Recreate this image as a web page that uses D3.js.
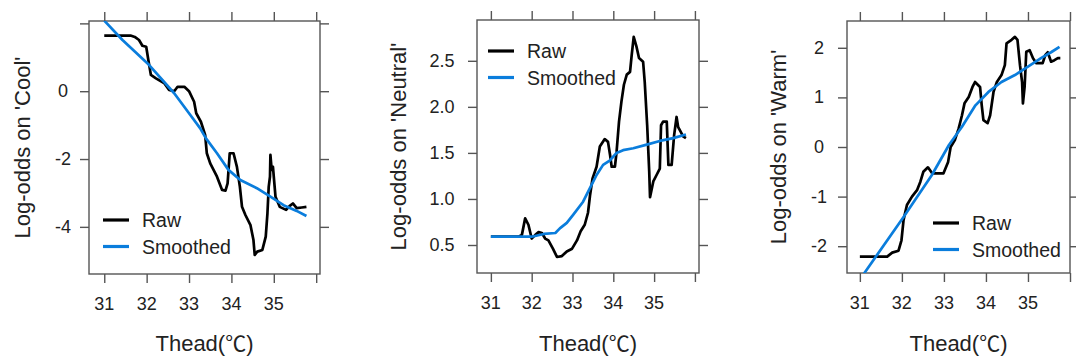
<!DOCTYPE html>
<html>
<head>
<meta charset="utf-8">
<script src="https://cdn.jsdelivr.net/npm/d3@7"></script>
<style>
  html, body { margin: 0; padding: 0; background: #fff; }
  svg { display: block; }
  text { font-family: "Liberation Sans", Arial, sans-serif; fill: #222; }
</style>
</head>
<body>
<svg id="chart" width="1076" height="361"></svg>
<script>
// ---------------- data ----------------
const xTicks = [31, 32, 33, 34, 35, 36];
const xTickLabels = ["31", "32", "33", "34", "35", ""];
const xTitleMain = "Thead(";
const xTitleUnit = "\u2103";
const xTitleEnd = ")";
const legendLabels = ["Raw", "Smoothed"];

const coolTicks = [-4, -2, 0, 2];
const coolTickLabels = ["-4", "-2", "0", ""];
const neutralTicks = [0.5, 1.0, 1.5, 2.0, 2.5];
const neutralTickLabels = ["0.5", "1.0", "1.5", "2.0", "2.5"];
const warmTicks = [-2, -1, 0, 1, 2];
const warmTickLabels = ["-2", "-1", "0", "1", "2"];

const coolRaw = [[31.0,1.64],[31.62,1.64],[31.72,1.6],[31.82,1.51],[31.9,1.34],[31.99,1.31],[32.04,0.92],[32.1,0.48],[32.22,0.38],[32.42,0.23],[32.53,0.04],[32.65,0.0],[32.73,0.13],[32.89,0.13],[33.0,0.0],[33.12,-0.31],[33.17,-0.65],[33.28,-0.9],[33.38,-1.29],[33.42,-1.83],[33.5,-2.13],[33.66,-2.52],[33.78,-2.91],[33.86,-2.93],[33.91,-2.72],[33.96,-1.83],[34.05,-1.83],[34.13,-2.23],[34.2,-2.82],[34.25,-3.41],[34.33,-3.65],[34.45,-3.95],[34.52,-4.39],[34.55,-4.83],[34.61,-4.73],[34.73,-4.68],[34.81,-4.29],[34.85,-3.6],[34.88,-2.82],[34.91,-2.52],[34.92,-1.88],[34.95,-2.32],[34.98,-2.23],[35.04,-3.11],[35.14,-3.41],[35.29,-3.5],[35.37,-3.39],[35.45,-3.31],[35.54,-3.45],[35.66,-3.43],[35.77,-3.41]];
const coolSmooth = [[31.0,2.08],[31.43,1.51],[32.06,0.77],[32.65,-0.06],[33.0,-0.65],[33.26,-1.09],[33.4,-1.39],[33.66,-1.83],[33.93,-2.32],[34.21,-2.62],[34.6,-2.86],[34.92,-3.11],[35.23,-3.36],[35.54,-3.53],[35.77,-3.68]];

const neutralRaw = [[31.0,0.59],[31.68,0.59],[31.76,0.61],[31.84,0.79],[31.92,0.72],[32.0,0.57],[32.09,0.61],[32.17,0.64],[32.25,0.63],[32.33,0.57],[32.41,0.55],[32.52,0.46],[32.62,0.37],[32.74,0.38],[32.86,0.43],[32.99,0.46],[33.11,0.55],[33.2,0.65],[33.3,0.72],[33.38,0.85],[33.43,1.04],[33.49,1.22],[33.59,1.35],[33.67,1.57],[33.79,1.65],[33.87,1.62],[33.92,1.48],[33.96,1.35],[34.04,1.35],[34.08,1.51],[34.14,1.84],[34.2,2.06],[34.26,2.24],[34.33,2.35],[34.41,2.38],[34.45,2.56],[34.5,2.76],[34.57,2.65],[34.63,2.53],[34.73,2.49],[34.77,2.27],[34.83,1.8],[34.88,1.3],[34.9,1.02],[34.98,1.19],[35.06,1.26],[35.14,1.33],[35.17,1.8],[35.22,1.84],[35.31,1.84],[35.35,1.37],[35.43,1.37],[35.49,1.69],[35.55,1.89],[35.59,1.78],[35.65,1.73],[35.71,1.68],[35.78,1.66]];
const neutralSmooth = [[31.0,0.59],[31.68,0.59],[32.0,0.59],[32.3,0.62],[32.58,0.63],[32.69,0.68],[32.86,0.74],[33.02,0.83],[33.26,0.97],[33.43,1.12],[33.59,1.26],[33.75,1.37],[33.92,1.42],[34.08,1.5],[34.24,1.53],[34.49,1.55],[34.82,1.59],[35.14,1.63],[35.47,1.66],[35.78,1.7]];

const warmRaw = [[31.0,-2.21],[31.65,-2.21],[31.77,-2.13],[31.92,-2.09],[31.99,-1.88],[32.04,-1.47],[32.12,-1.17],[32.24,-1.0],[32.36,-0.87],[32.44,-0.7],[32.51,-0.5],[32.62,-0.41],[32.72,-0.53],[32.99,-0.53],[33.1,-0.3],[33.16,0.0],[33.26,0.14],[33.35,0.37],[33.43,0.64],[33.49,0.88],[33.59,1.01],[33.68,1.21],[33.74,1.31],[33.86,1.21],[33.9,0.84],[33.94,0.54],[34.04,0.48],[34.1,0.64],[34.18,1.11],[34.26,1.31],[34.37,1.45],[34.45,1.65],[34.49,2.09],[34.61,2.16],[34.69,2.22],[34.75,2.16],[34.81,1.65],[34.86,1.31],[34.88,0.88],[34.92,1.21],[34.96,1.92],[35.04,1.95],[35.12,1.79],[35.2,1.69],[35.35,1.69],[35.41,1.85],[35.47,1.91],[35.55,1.72],[35.63,1.75],[35.71,1.79],[35.77,1.79]];
const warmSmooth = [[31.0,-2.67],[31.1,-2.55],[32.04,-1.41],[32.71,-0.57],[33.12,0.04],[33.43,0.41],[33.75,0.84],[34.06,1.11],[34.37,1.31],[34.69,1.45],[35.0,1.62],[35.31,1.79],[35.55,1.91],[35.75,2.02]];

// ---------------- layout ----------------
const panels = [
  { id: "cool", title: "Log-odds on 'Cool'", raw: coolRaw, smooth: coolSmooth,
    yTicks: coolTicks, yTickLabels: coolTickLabels,
    left: 89, right: 320, top: 21, bottom: 274,
    xDomain: [30.64, 36.09], yDomain: [-5.39, 2.07],
    titleX: 22, labelX: 63, legendX: 103, legendY: 220 },
  { id: "neutral", title: "Log-odds on 'Neutral'", raw: neutralRaw, smooth: neutralSmooth,
    yTicks: neutralTicks, yTickLabels: neutralTickLabels,
    left: 477, right: 699, top: 20, bottom: 273,
    xDomain: [30.66, 36.10], yDomain: [0.196, 2.943],
    titleX: 398, labelX: 442, legendX: 488, legendY: 51 },
  { id: "warm", title: "Log-odds on 'Warm'", raw: warmRaw, smooth: warmSmooth,
    yTicks: warmTicks, yTickLabels: warmTickLabels,
    left: 847, right: 1070, top: 21, bottom: 273,
    xDomain: [30.694, 36.0], yDomain: [-2.54, 2.54],
    titleX: 778, labelX: 819, legendX: 933, legendY: 223 }
];

const BLUE = "#0a7ddc";
const AXIS = "#555";
const TICK = 9;

const svg = d3.select("#chart");

panels.forEach((p, i) => {
  const x = d3.scaleLinear().domain(p.xDomain).range([p.left, p.right]);
  const y = d3.scaleLinear().domain(p.yDomain).range([p.bottom, p.top]);
  const g = svg.append("g");

  const clipId = "clip-" + p.id;
  svg.append("clipPath").attr("id", clipId)
    .append("rect").attr("x", p.left).attr("y", p.top)
    .attr("width", p.right - p.left).attr("height", p.bottom - p.top);

  const styleAxis = sel => {
    sel.select(".domain").remove();
    sel.selectAll(".tick line").attr("stroke", AXIS).attr("stroke-width", 1.4);
    sel.selectAll(".tick text").remove();
  };
  g.append("g").attr("transform", `translate(0,${p.bottom})`)
    .call(d3.axisBottom(x).tickValues(xTicks).tickSize(TICK)).call(styleAxis);
  g.append("g").attr("transform", `translate(0,${p.top})`)
    .call(d3.axisTop(x).tickValues(xTicks).tickSize(TICK)).call(styleAxis);
  g.append("g").attr("transform", `translate(${p.left},0)`)
    .call(d3.axisLeft(y).tickValues(p.yTicks).tickSize(TICK)).call(styleAxis);
  g.append("g").attr("transform", `translate(${p.right},0)`)
    .call(d3.axisRight(y).tickValues(p.yTicks).tickSize(TICK)).call(styleAxis);

  g.selectAll(".xl").data(xTicks).enter().append("text")
    .attr("x", d => x(d)).attr("y", p.bottom + 36)
    .attr("text-anchor", "middle").attr("font-size", 18)
    .text((d, k) => xTickLabels[k]);

  g.selectAll(".yl").data(p.yTicks).enter().append("text")
    .attr("x", p.labelX).attr("y", d => y(d))
    .attr("text-anchor", "middle").attr("dominant-baseline", "central")
    .attr("font-size", 18)
    .text((d, k) => p.yTickLabels[k]);

  g.append("rect").attr("x", p.left).attr("y", p.top)
    .attr("width", p.right - p.left).attr("height", p.bottom - p.top)
    .attr("fill", "none").attr("stroke", AXIS).attr("stroke-width", 1.4);

  const line = d3.line().x(d => x(d[0])).y(d => y(d[1]));
  const lg = g.append("g").attr("clip-path", `url(#${clipId})`);
  lg.append("path").datum(p.raw).attr("d", line)
    .attr("fill", "none").attr("stroke", "#000").attr("stroke-width", 2.7)
    .attr("stroke-linejoin", "round");
  lg.append("path").datum(p.smooth).attr("d", line)
    .attr("fill", "none").attr("stroke", BLUE).attr("stroke-width", 2.7)
    .attr("stroke-linejoin", "round");

  const colors = ["#000", BLUE];
  legendLabels.forEach((lab, k) => {
    const ly = p.legendY + k * 26.5;
    g.append("line").attr("x1", p.legendX).attr("x2", p.legendX + 26)
      .attr("y1", ly).attr("y2", ly)
      .attr("stroke", colors[k]).attr("stroke-width", 3.2);
    g.append("text").attr("x", p.legendX + 39).attr("y", ly)
      .attr("dominant-baseline", "central").attr("font-size", 19.5)
      .text(lab);
  });

  const xt = g.append("text").attr("x", (p.left + p.right) / 2).attr("y", 351)
    .attr("text-anchor", "middle").attr("font-size", 22);
  xt.append("tspan").text(xTitleMain);
  xt.append("tspan").attr("font-family", "'Noto Sans CJK SC', sans-serif").attr("font-size", 21).text(xTitleUnit);
  xt.append("tspan").text(xTitleEnd);

  const cy = (p.top + p.bottom) / 2;
  g.append("text").attr("transform", `translate(${p.titleX},${cy}) rotate(-90)`)
    .attr("text-anchor", "middle").attr("dominant-baseline", "central")
    .attr("font-size", 22).text(p.title);
});
</script>
</body>
</html>
